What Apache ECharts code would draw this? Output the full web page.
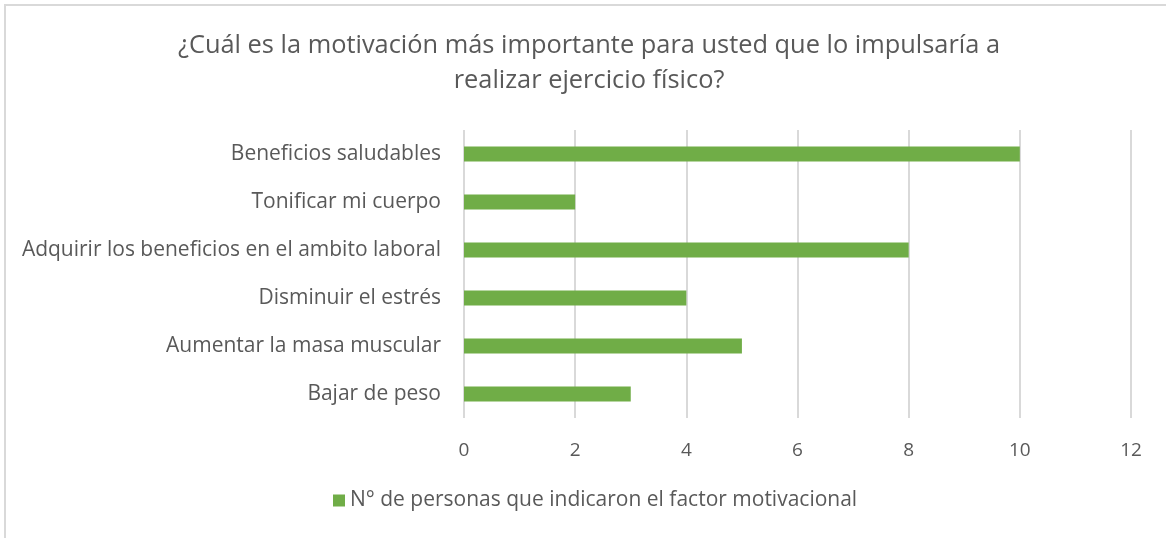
<!DOCTYPE html>
<html>
<head>
<meta charset="utf-8">
<script src="https://cdn.jsdelivr.net/npm/echarts@6/dist/echarts.min.js"></script>
<style>
  html, body { margin: 0; padding: 0; background: #fff; }
  #chart { width: 1166px; height: 538px; }
</style>
</head>
<body>
<div id="chart"></div>
<script>
// categories listed bottom to top (category axis on y starts at the bottom)
var categories = [
  "Bajar de peso",
  "Aumentar la masa muscular",
  "Disminuir el estrés",
  "Adquirir los beneficios en el ambito laboral",
  "Tonificar mi cuerpo",
  "Beneficios saludables"
];
var values = [3, 5, 4, 8, 2, 10];
var seriesName = "N° de personas que indicaron el factor motivacional";
var titleText = "¿Cuál es la motivación más importante para usted que lo impulsaría a\nrealizar ejercicio físico?";

var textColor = "#595959";
var font = "'Open Sans', sans-serif";

var myChart = echarts.init(document.getElementById("chart"));
var option = {
  animation: false,
  title: {
    text: titleText,
    left: 584,
    textAlign: "center",
    top: 23,
    textStyle: {
      color: textColor,
      fontFamily: font,
      fontWeight: "normal",
      fontSize: 25.4,
      lineHeight: 35,
    },
  },
  graphic: [
    {
      type: "rect",
      shape: { x: 5, y: 5, width: 1200, height: 600 },
      style: { fill: "none", stroke: "#d9d9d9", lineWidth: 2 },
      silent: true,
    },
  ],
  legend: {
    bottom: 22,
    left: 328,
    itemWidth: 12,
    itemHeight: 12,
    itemGap: 6,
    icon: "rect",
    textStyle: {
      color: textColor,
      fontFamily: font,
      fontSize: 21,
    },
    data: [seriesName],
  },
  grid: {
    left: 464,
    right: 35,
    top: 130,
    bottom: 120,
    containLabel: false,
  },
  xAxis: {
    type: "value",
    min: 0,
    max: 12,
    interval: 2,
    axisLine: { show: false },
    axisTick: { show: false },
    splitLine: { show: true, lineStyle: { color: "#d9d9d9", width: 2 } },
    axisLabel: {
      color: textColor,
      fontFamily: font,
      fontSize: 19,
      margin: 23,
    },
  },
  yAxis: {
    type: "category",
    data: categories,
    axisLine: { show: false },
    axisTick: { show: false },
    axisLabel: {
      color: textColor,
      fontFamily: font,
      fontSize: 21,
      margin: 23,
    },
  },
  series: [
    {
      name: seriesName,
      type: "bar",
      barWidth: 15,
      itemStyle: { color: "#70ad47" },
      data: values,
    },
  ],
};
myChart.setOption(option);
</script>
</body>
</html>
